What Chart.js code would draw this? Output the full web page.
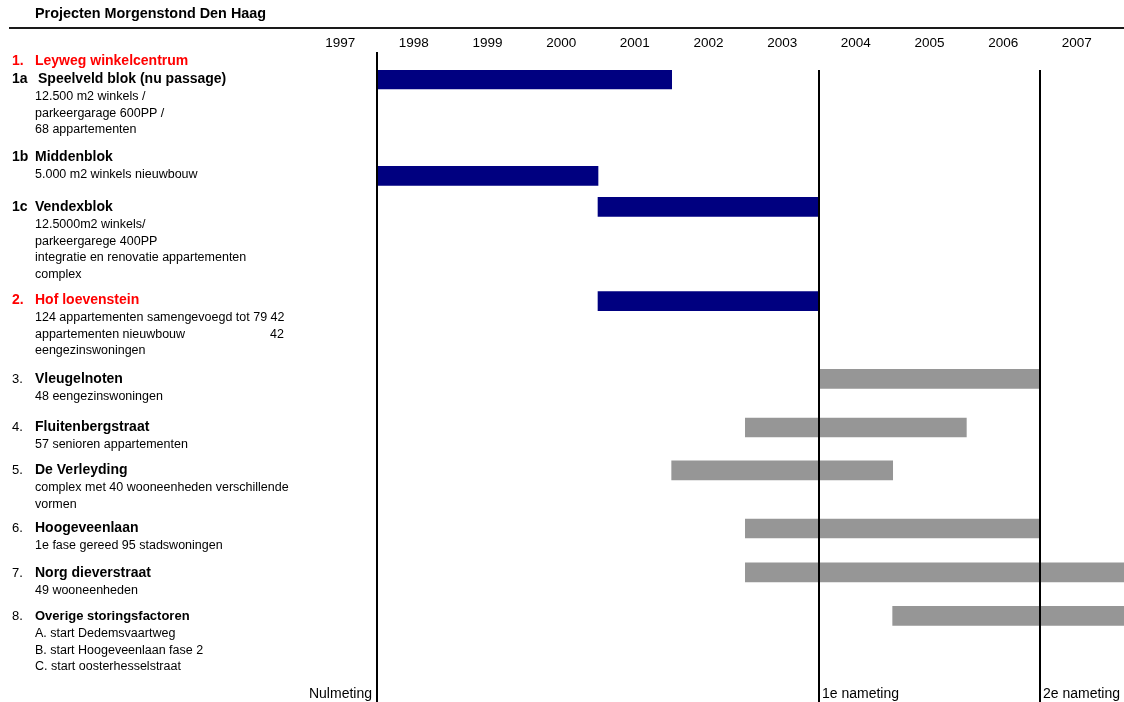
<!DOCTYPE html>
<html>
<head>
<meta charset="utf-8">
<script src="https://cdn.jsdelivr.net/npm/chart.js@4"></script>
<style>
html,body{margin:0;padding:0;background:#fff;overflow:hidden}
#wrap{position:relative;width:1124px;height:702px}
</style>
</head>
<body>
<div id="wrap"><canvas id="c" width="1124" height="702"></canvas></div>
<script>
// ---------- data ----------
const chartTitle = 'Projecten Morgenstond Den Haag';
const years = [1997, 1998, 1999, 2000, 2001, 2002, 2003, 2004, 2005, 2006, 2007];

const groupCode = '1.';
const groupName = 'Leyweg winkelcentrum';

const taskCodes = ['1a', '1b', '1c', '2.', '3.', '4.', '5.', '6.', '7.', '8.'];
const taskNames = ['Speelveld blok (nu passage)', 'Middenblok', 'Vendexblok', 'Hof loevenstein',
  'Vleugelnoten', 'Fluitenbergstraat', 'De Verleyding', 'Hoogeveenlaan', 'Norg dieverstraat',
  'Overige storingsfactoren'];
const taskDetails = [
  ['12.500 m2 winkels /', 'parkeergarage 600PP /', '68 appartementen'],
  ['5.000 m2 winkels nieuwbouw'],
  ['12.5000m2 winkels/', 'parkeergarege 400PP', 'integratie en renovatie appartementen', 'complex'],
  ['124 appartementen samengevoegd tot 79 42', 'appartementen nieuwbouw', 'eengezinswoningen'],
  ['48 eengezinswoningen'],
  ['57 senioren appartementen'],
  ['complex met 40 wooneenheden verschillende', 'vormen'],
  ['1e fase gereed 95 stadswoningen'],
  ['49 wooneenheden'],
  ['A. start Dedemsvaartweg', 'B. start Hoogeveenlaan fase 2', 'C. start oosterhesselstraat']
];
const taskStart = [1998, 1998, 2001, 2001, 2004, 2003, 2002, 2003, 2003, 2005];
const taskEnd   = [2002, 2001, 2004, 2004, 2007, 2006, 2005, 2007, 2009, 2009];
const taskPhase = ['uitgevoerd', 'uitgevoerd', 'uitgevoerd', 'uitgevoerd',
  'gepland', 'gepland', 'gepland', 'gepland', 'gepland', 'gepland'];
// row position of each bar, in text-line units from the top of the plot
const taskRow = [0.58, 6.46, 8.35, 14.09, 18.84, 21.80, 24.42, 27.96, 30.64, 33.29];

const markerYears  = [1998, 2004, 2007];
const markerLabels = ['Nulmeting', '1e nameting', '2e nameting'];

// ---------- layout / style ----------
const FF = '"Liberation Sans", Arial, sans-serif';
const headingY = [79, 157, 207, 300, 379, 427, 470, 528, 573, 616];
const groupY = 61;
const redCodes = ['2.'];
const markerTopRow = [-1.1, 0, 0];
const phaseColor = { uitgevoerd: '#000080', gepland: '#969696' };

const overlay = {
  id: 'overlay',
  afterDatasetsDraw(chart) {
    const ctx = chart.ctx, xs = chart.scales.x, ys = chart.scales.y, area = chart.chartArea;
    ctx.save();
    ctx.textBaseline = 'middle';
    ctx.textAlign = 'left';
    ctx.fillStyle = '#000';
    ctx.font = 'bold 14.4px ' + FF;
    ctx.fillText(chartTitle, 35, 14.5);

    ctx.strokeStyle = '#1a1a1a';
    ctx.lineWidth = 2;
    ctx.beginPath(); ctx.moveTo(9, 28); ctx.lineTo(1124, 28); ctx.stroke();

    ctx.font = '13.5px ' + FF;
    ctx.textAlign = 'center';
    years.forEach(y => ctx.fillText(String(y), xs.getPixelForValue(y + 0.5), 43.5));

    // left labels
    ctx.textAlign = 'left';
    ctx.fillStyle = '#ff0000';
    ctx.font = 'bold 14px ' + FF;
    ctx.fillText(groupCode, 12, groupY);
    ctx.fillText(groupName, 35, groupY);

    taskCodes.forEach((code, i) => {
      const y = headingY[i];
      const red = redCodes.includes(code);
      const sub = code.length === 2 && code[1] !== '.';
      ctx.fillStyle = red ? '#ff0000' : '#000';
      ctx.font = (red || sub ? 'bold 14px ' : '13px ') + FF;
      ctx.fillText(code, 12, y);
      ctx.font = (i === 9 ? 'bold 13px ' : 'bold 14px ') + FF;
      ctx.fillText(taskNames[i], code === '1a' ? 38 : 35, y);
      ctx.fillStyle = '#000';
      ctx.font = '12.5px ' + FF;
      taskDetails[i].forEach((line, j) => {
        ctx.fillText(line, 35, y + 17.5 + j * 16.6);
      });
    });
    // stray number in the Hof loevenstein description
    ctx.fillText('42', 270, 335);

    // measurement lines
    markerYears.forEach((yr, i) => {
      const px = Math.round(xs.getPixelForValue(yr));
      ctx.strokeStyle = '#000';
      ctx.lineWidth = 2;
      ctx.beginPath();
      ctx.moveTo(px, ys.getPixelForValue(markerTopRow[i]));
      ctx.lineTo(px, area.bottom);
      ctx.stroke();
      ctx.fillStyle = '#000';
      ctx.font = '14px ' + FF;
      if (i === 0) { ctx.textAlign = 'right'; ctx.fillText(markerLabels[i], px - 5, 694); }
      else { ctx.textAlign = 'left'; ctx.fillText(markerLabels[i], px + 3, 694); }
    });
    ctx.restore();
  }
};

new Chart(document.getElementById('c'), {
  type: 'bar',
  data: {
    datasets: [{
      label: 'Projecten',
      data: taskCodes.map((c, i) => ({ x: [taskStart[i], taskEnd[i]], y: taskRow[i] })),
      backgroundColor: taskPhase.map(p => phaseColor[p]),
      borderWidth: 0,
      barThickness: 19
    }]
  },
  options: {
    indexAxis: 'y',
    responsive: false,
    animation: false,
    devicePixelRatio: 1,
    layout: { padding: { left: 377, top: 70, right: 0, bottom: 0 } },
    scales: {
      x: { type: 'linear', min: 1998, max: 2008.14, display: false, offset: false },
      y: { type: 'linear', min: 0, max: 38.54, reverse: true, display: false, offset: false }
    },
    plugins: { legend: { display: false }, tooltip: { enabled: false }, title: { display: false } }
  },
  plugins: [overlay]
});
</script>
</body>
</html>
